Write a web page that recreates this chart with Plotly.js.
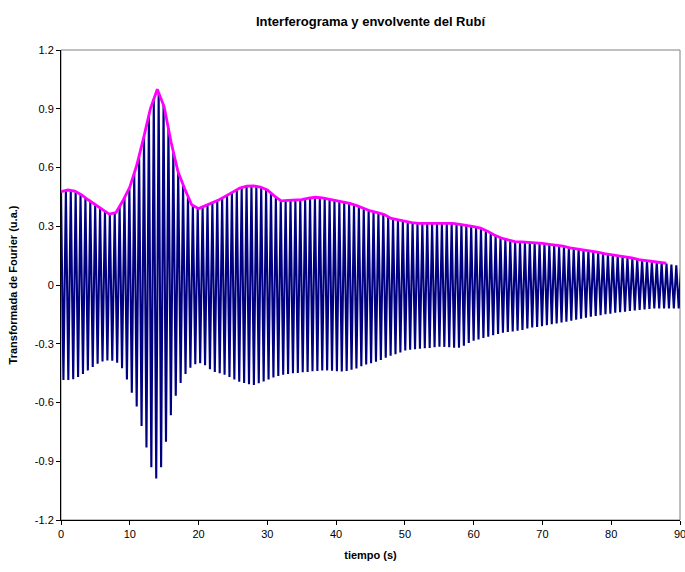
<!DOCTYPE html>
<html>
<head>
<meta charset="utf-8">
<script src="https://cdn.plot.ly/plotly-3.0.1.min.js"></script>
<style>html,body{margin:0;padding:0;background:#fff;}#chart{width:685px;height:572px;}</style>
</head>
<body>
<div id="chart"></div>
<script>
// Interferogram: one crest and one trough per cycle
var cyclePeriod = 0.71; // s, spacing between successive crests
var crestValues = [
0.477,0.483,0.483,0.477,0.463,0.446,0.428,0.41,0.393,0.376,
0.363,0.368,0.40,0.446,0.496,0.57,0.66,0.76,0.867,0.95,
0.98,0.92,0.80,0.68,0.575,0.51,0.45,0.407,0.392,0.399,
0.41,0.42,0.431,0.444,0.458,0.474,0.487,0.498,0.505,0.506,
0.504,0.498,0.488,0.47,0.449,0.431,0.431,0.433,0.434,0.436,
0.44,0.444,0.448,0.446,0.443,0.438,0.433,0.429,0.424,0.418,
0.41,0.40,0.39,0.381,0.374,0.368,0.361,0.349,0.338,0.333,
0.327,0.322,0.318,0.315,0.315,0.315,0.315,0.315,0.315,0.315,
0.315,0.313,0.309,0.305,0.30,0.295,0.289,0.278,0.265,0.252,
0.241,0.234,0.227,0.222,0.22,0.219,0.218,0.216,0.214,0.212,
0.208,0.205,0.20,0.197,0.191,0.187,0.184,0.18,0.177,0.172,
0.167,0.161,0.157,0.154,0.15,0.147,0.142,0.137,0.132,0.128,
0.124,0.12,0.117,0.114,0.11,0.105,0.10,0.10
];
var troughValues = [
-0.485,-0.485,-0.481,-0.47,-0.455,-0.436,-0.419,-0.402,-0.39,-0.386,
-0.387,-0.397,-0.425,-0.483,-0.55,-0.62,-0.72,-0.83,-0.931,-0.988,
-0.93,-0.80,-0.665,-0.565,-0.50,-0.455,-0.423,-0.405,-0.399,-0.41,
-0.43,-0.444,-0.451,-0.458,-0.47,-0.483,-0.494,-0.501,-0.507,-0.51,
-0.502,-0.493,-0.482,-0.472,-0.464,-0.458,-0.455,-0.451,-0.449,-0.446,
-0.444,-0.441,-0.439,-0.436,-0.436,-0.438,-0.44,-0.442,-0.439,-0.433,
-0.426,-0.415,-0.406,-0.399,-0.392,-0.383,-0.372,-0.361,-0.354,-0.345,
-0.335,-0.331,-0.328,-0.325,-0.323,-0.321,-0.318,-0.315,-0.316,-0.318,
-0.32,-0.32,-0.31,-0.296,-0.285,-0.278,-0.271,-0.264,-0.257,-0.25,
-0.244,-0.24,-0.237,-0.233,-0.229,-0.222,-0.217,-0.214,-0.21,-0.205,
-0.20,-0.196,-0.191,-0.187,-0.182,-0.177,-0.172,-0.167,-0.162,-0.158,
-0.154,-0.149,-0.146,-0.142,-0.139,-0.136,-0.133,-0.13,-0.128,-0.125,
-0.122,-0.12,-0.12,-0.12,-0.12,-0.12,-0.12
];

// Envelope (magenta), read at 1 s steps
var envTime = [];
for (var s = 0; s <= 88; s++) envTime.push(s);
var envValues = [
0.477,0.485,0.48,0.46,0.434,0.41,0.385,0.362,0.37,0.43,
0.50,0.61,0.75,0.90,1.00,0.91,0.73,0.58,0.49,0.41,
0.39,0.405,0.42,0.435,0.455,0.477,0.495,0.505,0.506,0.50,
0.485,0.455,0.43,0.432,0.434,0.436,0.443,0.448,0.445,0.438,
0.432,0.425,0.417,0.405,0.39,0.378,0.37,0.36,0.34,0.333,
0.325,0.318,0.315,0.315,0.315,0.315,0.315,0.315,0.31,0.305,
0.298,0.29,0.275,0.255,0.24,0.23,0.222,0.22,0.218,0.216,
0.213,0.208,0.204,0.198,0.19,0.185,0.18,0.175,0.168,0.16,
0.155,0.15,0.145,0.138,0.13,0.125,0.12,0.116,0.111
];

var xTickVals = [0,10,20,30,40,50,60,70,80,90];
var yTickVals = [-1.2,-0.9,-0.6,-0.3,0,0.3,0.6,0.9,1.2];
var yTickText = ['-1.2','-0.9','-0.6','-0.3','0','0.3','0.6','0.9','1.2'];

// Build the zig-zag trace: crest at k*P, trough at k*P + P/2
var sigT = [], sigV = [];
for (var k = 0; k < crestValues.length; k++) {
  sigT.push(k * cyclePeriod); sigV.push(crestValues[k]);
  if (k < troughValues.length) {
    sigT.push(k * cyclePeriod + cyclePeriod / 2); sigV.push(troughValues[k]);
  }
}

var font = 'Liberation Sans, Arial, sans-serif';
var traces = [
  {x: sigT, y: sigV, type: 'scatter', mode: 'lines',
   line: {color: '#000080', width: 2.1}, hoverinfo: 'skip', showlegend: false, name: 'Interferograma'},
  {x: envTime, y: envValues, type: 'scatter', mode: 'lines',
   line: {color: '#FF00FF', width: 2.8}, hoverinfo: 'skip', showlegend: false, name: 'Envolvente'}
];

var layout = {
  width: 685, height: 572,
  margin: {l: 61, r: 5, t: 50, b: 52},
  paper_bgcolor: '#ffffff', plot_bgcolor: '#ffffff',
  font: {family: font, size: 11, color: '#000'},
  title: {text: '<b>Interferograma y envolvente del Rubí</b>', x: 0.5, xref: 'paper', xanchor: 'center',
          y: 1 - 17 / 572, yref: 'container', font: {family: font, size: 13, color: '#000'}},
  xaxis: {range: [0, 90], tickvals: xTickVals, ticktext: xTickVals.map(String),
          showgrid: false, zeroline: false, showline: true, linecolor: '#000', linewidth: 1,
          ticks: 'outside', ticklen: 4, tickcolor: '#000', tickfont: {family: font, size: 11},
          ticklabeloverflow: 'allow',
          title: {text: '<b>tiempo (s)</b>', font: {family: font, size: 11}, standoff: 12}},
  yaxis: {range: [-1.2, 1.2], tickvals: yTickVals, ticktext: yTickText,
          showgrid: false, zeroline: false, showline: true, linecolor: '#000', linewidth: 1,
          ticks: 'outside', ticklen: 4, tickcolor: '#000', tickfont: {family: font, size: 11},
          title: {text: '<b>Transformada de Fourier (u.a.)</b>', font: {family: font, size: 11}, standoff: 14}},
  shapes: [{type: 'rect', xref: 'paper', yref: 'paper', x0: 0, x1: 1, y0: 0, y1: 1,
            line: {color: '#808080', width: 1}, layer: 'below'}]
};

Plotly.newPlot('chart', traces, layout, {staticPlot: true, displayModeBar: false});
</script>
</body>
</html>
